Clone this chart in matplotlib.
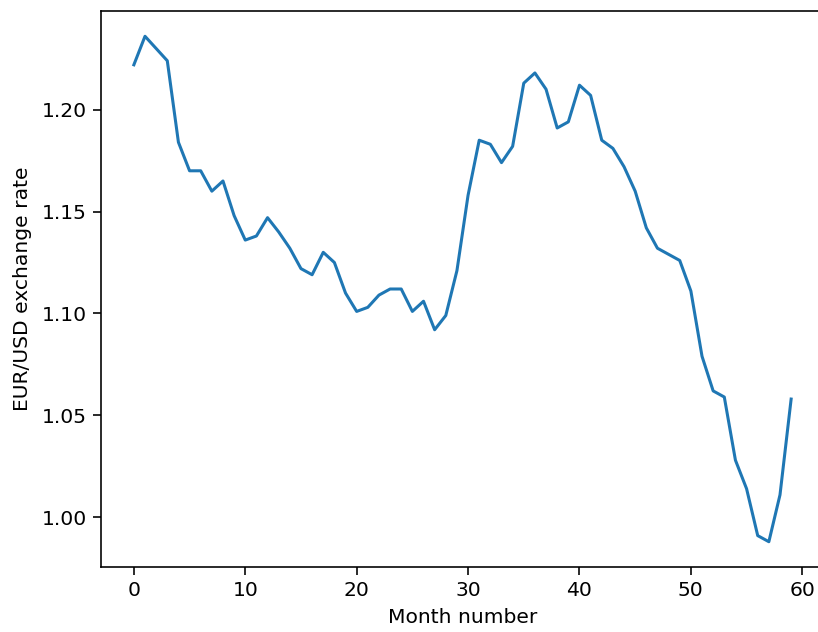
import matplotlib
matplotlib.use("Agg")
import matplotlib.pyplot as plt

# monthly EUR/USD rates
months = list(range(60))
rates = [1.222, 1.236, 1.230, 1.224, 1.184, 1.170, 1.170, 1.160, 1.165, 1.148,
         1.136, 1.138, 1.147, 1.140, 1.132, 1.122, 1.119, 1.130, 1.125, 1.110,
         1.101, 1.103, 1.109, 1.112, 1.112, 1.101, 1.106, 1.092, 1.099, 1.121,
         1.158, 1.185, 1.183, 1.174, 1.182, 1.213, 1.218, 1.210, 1.191, 1.194,
         1.212, 1.207, 1.185, 1.181, 1.172, 1.160, 1.142, 1.132, 1.129, 1.126,
         1.111, 1.079, 1.062, 1.059, 1.028, 1.014, 0.991, 0.988, 1.011, 1.058]

k = 1.46  # the reference looks like a default plot blown up ~1.46x
plt.rcParams['font.size'] = 10 * k
plt.rcParams['axes.linewidth'] = 0.8 * k
plt.rcParams['xtick.major.width'] = 0.8 * k
plt.rcParams['ytick.major.width'] = 0.8 * k
plt.rcParams['xtick.major.size'] = 5.5
plt.rcParams['ytick.major.size'] = 5.5
plt.rcParams['xtick.major.pad'] = 4.8
plt.rcParams['ytick.major.pad'] = 4.8

fig = plt.figure(figsize=(8.18, 6.32), dpi=100)
ax = fig.add_axes([101 / 818, 65 / 632, 723 / 818, 556 / 632])
ax.plot(months, rates, color='#1f77b4', linewidth=1.5 * k)
ax.set_xlabel('Month number', labelpad=4 * k)
ax.set_ylabel('EUR/USD exchange rate', labelpad=6.5)
ax.set_xticks([0, 10, 20, 30, 40, 50, 60])
ax.set_yticks([1.00, 1.05, 1.10, 1.15, 1.20])

fig.savefig('out.png', dpi=100)
